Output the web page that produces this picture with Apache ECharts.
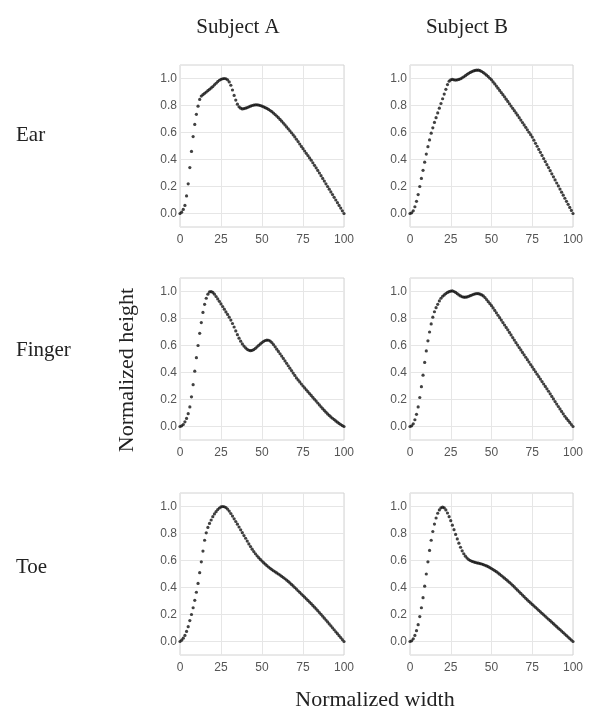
<!DOCTYPE html>
<html>
<head>
<meta charset="utf-8">
<script src="https://cdn.jsdelivr.net/npm/echarts@6/dist/echarts.min.js"></script>
<style>
  html, body { margin: 0; padding: 0; background: #ffffff; }
  #chart { width: 589px; height: 720px; }
</style>
</head>
<body>
<div id="chart"></div>
<script>
// Normalized pulse shapes, one value per normalized-width step (0..100)
const widthSteps = Array.from({ length: 101 }, (_, i) => i);

const earA = [
  0.000, 0.010, 0.030, 0.060, 0.130, 0.220, 0.340, 0.460, 0.570, 0.660,
  0.735, 0.795, 0.845, 0.870, 0.880, 0.890, 0.900, 0.910, 0.920, 0.930,
  0.940, 0.953, 0.965, 0.977, 0.987, 0.994, 0.998, 1.000, 0.998, 0.990,
  0.975, 0.950, 0.915, 0.875, 0.840, 0.810, 0.790, 0.780, 0.775, 0.777,
  0.780, 0.785, 0.790, 0.795, 0.800, 0.803, 0.805, 0.805, 0.803, 0.800,
  0.795, 0.790, 0.784, 0.778, 0.771, 0.763, 0.754, 0.744, 0.733, 0.722,
  0.710, 0.697, 0.684, 0.670, 0.656, 0.641, 0.627, 0.613, 0.598, 0.583,
  0.567, 0.550, 0.533, 0.515, 0.497, 0.480, 0.463, 0.446, 0.429, 0.412,
  0.395, 0.376, 0.357, 0.338, 0.319, 0.300, 0.280, 0.260, 0.240, 0.220,
  0.200, 0.180, 0.160, 0.140, 0.120, 0.100, 0.080, 0.060, 0.040, 0.020,
  0.000
];

const earB = [
  0.000, 0.005, 0.020, 0.050, 0.090, 0.140, 0.200, 0.260, 0.320, 0.380,
  0.440, 0.495, 0.545, 0.595, 0.635, 0.675, 0.710, 0.745, 0.780, 0.815,
  0.850, 0.885, 0.920, 0.955, 0.980, 0.990, 0.993, 0.990, 0.988, 0.990,
  0.993, 0.998, 1.005, 1.013, 1.021, 1.030, 1.038, 1.045, 1.051, 1.056,
  1.060, 1.062, 1.062, 1.058, 1.052, 1.044, 1.035, 1.025, 1.014, 1.002,
  0.990, 0.975, 0.960, 0.944, 0.928, 0.912, 0.896, 0.880, 0.864, 0.847,
  0.830, 0.813, 0.796, 0.779, 0.762, 0.745, 0.728, 0.710, 0.692, 0.674,
  0.656, 0.638, 0.620, 0.602, 0.584, 0.566, 0.543, 0.520, 0.498, 0.475,
  0.453, 0.430, 0.407, 0.385, 0.362, 0.340, 0.317, 0.294, 0.272, 0.249,
  0.226, 0.204, 0.181, 0.158, 0.136, 0.113, 0.090, 0.068, 0.045, 0.023,
  0.000
];

const fingerA = [
  0.000, 0.005, 0.015, 0.035, 0.060, 0.095, 0.145, 0.220, 0.310, 0.410,
  0.510, 0.600, 0.690, 0.770, 0.845, 0.905, 0.950, 0.980, 0.997, 1.000,
  0.993, 0.980, 0.963, 0.945, 0.927, 0.908, 0.889, 0.869, 0.849, 0.830,
  0.810, 0.788, 0.763, 0.737, 0.708, 0.680, 0.654, 0.632, 0.612, 0.596,
  0.583, 0.572, 0.565, 0.562, 0.564, 0.570, 0.579, 0.590, 0.601, 0.612,
  0.622, 0.631, 0.637, 0.640, 0.639, 0.633, 0.622, 0.607, 0.590, 0.573,
  0.556, 0.539, 0.522, 0.504, 0.486, 0.468, 0.450, 0.432, 0.414, 0.396,
  0.378, 0.360, 0.345, 0.330, 0.315, 0.300, 0.286, 0.272, 0.258, 0.244,
  0.230, 0.216, 0.202, 0.188, 0.174, 0.160, 0.146, 0.132, 0.119, 0.106,
  0.093, 0.082, 0.071, 0.061, 0.051, 0.041, 0.032, 0.023, 0.015, 0.007,
  0.000
];

const fingerB = [
  0.000, 0.005, 0.020, 0.050, 0.090, 0.145, 0.215, 0.295, 0.380, 0.475,
  0.560, 0.635, 0.700, 0.760, 0.810, 0.850, 0.880, 0.905, 0.930, 0.950,
  0.965, 0.975, 0.985, 0.993, 0.999, 1.003, 1.004, 1.000, 0.993, 0.984,
  0.975, 0.967, 0.961, 0.958, 0.958, 0.960, 0.964, 0.969, 0.974, 0.979,
  0.983, 0.985, 0.984, 0.980, 0.975, 0.967, 0.955, 0.940, 0.925, 0.910,
  0.895, 0.878, 0.860, 0.842, 0.824, 0.806, 0.788, 0.770, 0.752, 0.734,
  0.716, 0.697, 0.678, 0.659, 0.640, 0.621, 0.603, 0.585, 0.567, 0.549,
  0.531, 0.513, 0.495, 0.477, 0.459, 0.441, 0.423, 0.405, 0.387, 0.369,
  0.351, 0.333, 0.315, 0.297, 0.279, 0.261, 0.242, 0.223, 0.204, 0.185,
  0.166, 0.148, 0.130, 0.112, 0.094, 0.076, 0.060, 0.045, 0.030, 0.015,
  0.000
];

const toeA = [
  0.000, 0.010, 0.025, 0.045, 0.075, 0.110, 0.155, 0.200, 0.250, 0.305,
  0.365, 0.430, 0.510, 0.590, 0.670, 0.750, 0.805, 0.845, 0.875, 0.900,
  0.925, 0.945, 0.962, 0.977, 0.989, 0.997, 1.000, 0.998, 0.992, 0.981,
  0.966, 0.948, 0.929, 0.909, 0.889, 0.869, 0.848, 0.827, 0.806, 0.785,
  0.765, 0.744, 0.723, 0.703, 0.684, 0.666, 0.650, 0.635, 0.621, 0.608,
  0.596, 0.584, 0.573, 0.562, 0.552, 0.542, 0.533, 0.524, 0.516, 0.508,
  0.500, 0.492, 0.483, 0.474, 0.465, 0.455, 0.445, 0.434, 0.423, 0.412,
  0.400, 0.388, 0.376, 0.364, 0.352, 0.340, 0.328, 0.316, 0.304, 0.292,
  0.280, 0.267, 0.254, 0.241, 0.228, 0.215, 0.201, 0.187, 0.173, 0.159,
  0.145, 0.130, 0.116, 0.101, 0.087, 0.072, 0.058, 0.043, 0.029, 0.014,
  0.000
];

const toeB = [
  0.000, 0.005, 0.020, 0.045, 0.080, 0.125, 0.185, 0.250, 0.325, 0.410,
  0.500, 0.590, 0.675, 0.750, 0.815, 0.870, 0.915, 0.950, 0.975, 0.990,
  0.995, 0.990, 0.975, 0.952, 0.925, 0.895, 0.862, 0.828, 0.793, 0.760,
  0.728, 0.698, 0.672, 0.650, 0.632, 0.618, 0.607, 0.600, 0.594, 0.590,
  0.586, 0.583, 0.580, 0.577, 0.574, 0.570, 0.565, 0.560, 0.554, 0.547,
  0.540, 0.533, 0.525, 0.517, 0.508, 0.499, 0.489, 0.479, 0.469, 0.459,
  0.449, 0.438, 0.427, 0.416, 0.404, 0.392, 0.380, 0.368, 0.356, 0.344,
  0.332, 0.320, 0.308, 0.297, 0.286, 0.275, 0.264, 0.253, 0.242, 0.231,
  0.220, 0.209, 0.198, 0.187, 0.176, 0.165, 0.154, 0.143, 0.132, 0.121,
  0.110, 0.099, 0.088, 0.077, 0.066, 0.055, 0.044, 0.033, 0.022, 0.011,
  0.000
];

const subjects = ['Subject A', 'Subject B'];
const sites = ['Ear', 'Finger', 'Toe'];
const panelData = [[earA, earB], [fingerA, fingerB], [toeA, toeB]];
const xTicks = [0, 25, 50, 75, 100];
const yTicks = [0.0, 0.2, 0.4, 0.6, 0.8, 1.0];

// Panel geometry (px)
const colLeft = [180, 410];
const colWidth = [164, 163];
const rowTop = [65, 278, 493];
const panelHeight = 162;
const siteLabelY = [135, 350, 567];
const subjectLabelX = [238, 467];

const serif = '"Liberation Serif", "DejaVu Serif", serif';
const sans = '"Liberation Sans", Arial, sans-serif';

const grids = [], xAxes = [], yAxes = [], series = [];
let idx = 0;
for (let r = 0; r < 3; r++) {
  for (let c = 0; c < 2; c++) {
    grids.push({
      left: colLeft[c], top: rowTop[r], width: colWidth[c], height: panelHeight,
      show: true, borderColor: '#d2d2d2', borderWidth: 1, backgroundColor: 'transparent'
    });
    xAxes.push({
      gridIndex: idx, type: 'value', min: 0, max: 100,
      axisLine: { show: false },
      axisTick: { show: false, customValues: xTicks },
      splitLine: { show: true, lineStyle: { color: '#e6e6e6', width: 1 } },
      axisLabel: { customValues: xTicks, color: '#555', fontFamily: sans, fontSize: 12, margin: 7 }
    });
    yAxes.push({
      gridIndex: idx, type: 'value', min: -0.1, max: 1.1,
      axisLine: { show: false },
      axisTick: { show: false, customValues: yTicks },
      splitLine: { show: true, lineStyle: { color: '#e6e6e6', width: 1 } },
      axisLabel: {
        customValues: yTicks, color: '#555', fontFamily: sans, fontSize: 12, margin: 3,
        formatter: v => v.toFixed(1)
      }
    });
    series.push({
      type: 'scatter', xAxisIndex: idx, yAxisIndex: idx,
      symbol: 'circle', symbolSize: 3.2,
      itemStyle: { color: '#111111' },
      silent: true, animation: false,
      data: widthSteps.map((x, i) => [x, panelData[r][c][i]])
    });
    idx++;
  }
}

const textStyle = { fontFamily: serif, fontSize: 21, fill: '#222222' };
const graphics = [];
subjects.forEach((s, c) => {
  graphics.push({ type: 'text', x: subjectLabelX[c], y: 27,
    style: Object.assign({ text: s, align: 'center', verticalAlign: 'middle' }, textStyle) });
});
sites.forEach((s, r) => {
  graphics.push({ type: 'text', x: 16, y: siteLabelY[r],
    style: Object.assign({ text: s, align: 'left', verticalAlign: 'middle' }, textStyle) });
});
graphics.push({ type: 'text', x: 127, y: 370, rotation: Math.PI / 2,
  style: Object.assign({ text: 'Normalized height', align: 'center', verticalAlign: 'middle' }, textStyle, { fontSize: 22 }) });
graphics.push({ type: 'text', x: 375, y: 700,
  style: Object.assign({ text: 'Normalized width', align: 'center', verticalAlign: 'middle' }, textStyle, { fontSize: 22 }) });

const chart = echarts.init(document.getElementById('chart'), null, { renderer: 'canvas' });
chart.setOption({
  backgroundColor: '#ffffff',
  animation: false,
  grid: grids,
  xAxis: xAxes,
  yAxis: yAxes,
  series: series,
  graphic: graphics
});
</script>
</body>
</html>
